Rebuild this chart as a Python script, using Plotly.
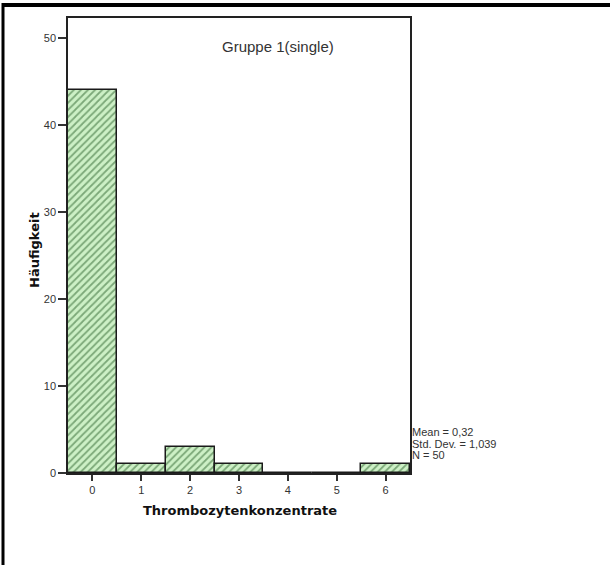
import plotly.graph_objects as go

categories = [0, 1, 2, 3, 4, 5, 6]
counts = [44, 1, 3, 1, 0, 0, 1]
y_ticks = [0, 10, 20, 30, 40, 50]
stats_lines = ["Mean = 0,32", "Std. Dev. = 1,039", "N = 50"]
title_text = "Gruppe 1(single)"
x_title = "Thrombozytenkonzentrate"
y_title = "Häufigkeit"

W, H = 610, 565
L, R, T, B = 68, 200, 18, 92
pw, ph = W - L - R, H - T - B

def px_x(px):
    return (px - L) / pw

def px_y(py):
    return (H - B - py) / ph

fig = go.Figure()
fig.add_trace(go.Bar(
    x=categories, y=counts, width=1.0,
    marker=dict(color="#cdf0c6",
                line=dict(color="#1a1a1a", width=1.5),
                pattern=dict(shape="/", fgcolor="#2a5f2a", bgcolor="#cdf0c6",
                             size=5, solidity=0.35, fillmode="overlay")),
    showlegend=False, hoverinfo="skip"))

tickfont = dict(family="Arial, Liberation Sans", size=11, color="#333333")
fig.update_layout(
    width=W, height=H,
    margin=dict(l=L, r=R, t=T, b=B),
    paper_bgcolor="white", plot_bgcolor="white",
    bargap=0,
    xaxis=dict(range=[-0.5, 6.5], tickvals=categories, ticks="outside", ticklen=6,
               tickcolor="#333", tickwidth=1.5, showline=True, linecolor="#222",
               linewidth=1.5, mirror=True, showgrid=False, zeroline=False,
               tickfont=tickfont, fixedrange=True),
    yaxis=dict(range=[0, 52.3], tickvals=y_ticks, ticks="outside", ticklen=8,
               tickcolor="#333", tickwidth=1.5, showline=True, linecolor="#222",
               linewidth=1.5, mirror=True, showgrid=False, zeroline=False,
               tickfont=tickfont, fixedrange=True),
)

ann = []
ann.append(dict(text=title_text, xref="paper", yref="paper", x=px_x(278), y=px_y(46),
                xanchor="center", yanchor="middle", showarrow=False,
                font=dict(family="Arial, Liberation Sans", size=15, color="#333333")))
ann.append(dict(text="<b>" + x_title + "</b>", xref="paper", yref="paper", x=px_x(240), y=px_y(511),
                xanchor="center", yanchor="middle", showarrow=False,
                font=dict(family="DejaVu Sans", size=13, color="#111111")))
ann.append(dict(text="<b>" + y_title + "</b>", xref="paper", yref="paper", x=px_x(35), y=px_y(250),
                xanchor="center", yanchor="middle", showarrow=False, textangle=-90,
                font=dict(family="DejaVu Sans", size=13, color="#111111")))
for i, s in enumerate(stats_lines):
    ann.append(dict(text=s, xref="paper", yref="paper", x=px_x(410), y=px_y(432 + i * 11.5),
                    xanchor="left", yanchor="middle", showarrow=False,
                    font=dict(family="Arial, Liberation Sans", size=11, color="#333333")))
fig.update_layout(annotations=ann)

# outer frame (top and left edges visible)
fig.add_shape(type="line", xref="paper", yref="paper", x0=px_x(2), x1=px_x(612),
              y0=px_y(5), y1=px_y(5), line=dict(color="black", width=4), layer="above")
fig.add_shape(type="line", xref="paper", yref="paper", x0=px_x(3), x1=px_x(3),
              y0=px_y(3), y1=px_y(600), line=dict(color="black", width=3), layer="above")

fig.write_html("out.html", config={"displayModeBar": False},
               post_script="document.body.style.margin='0';document.body.style.overflow='hidden';")
